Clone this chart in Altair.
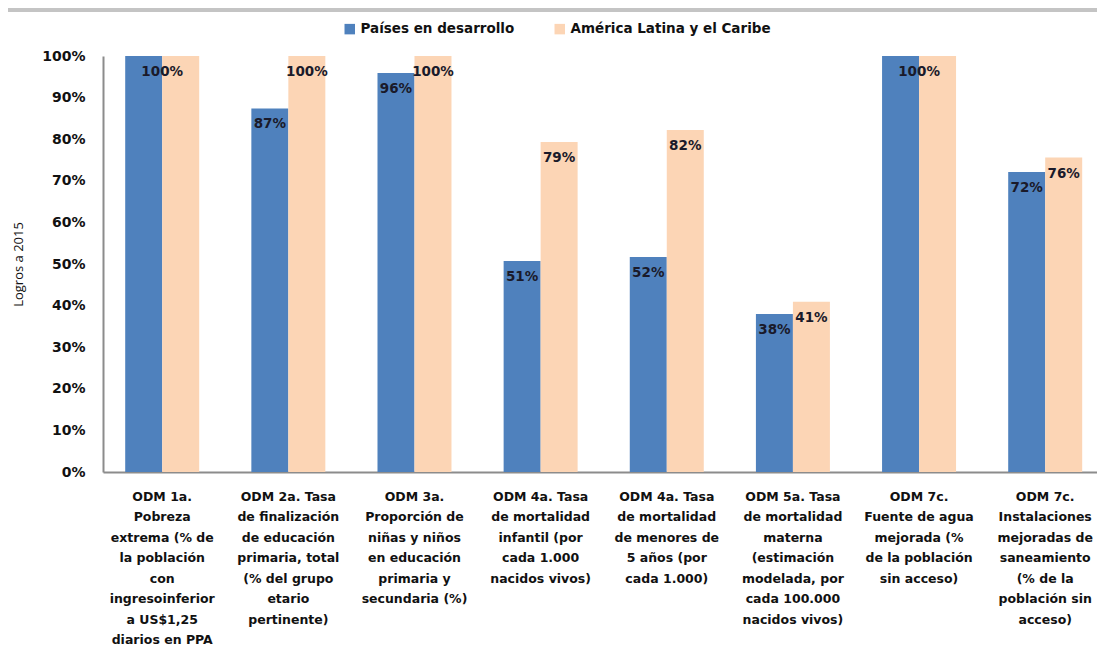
import altair as alt
import pandas as pd

categories = [
    "ODM 1a.\nPobreza\nextrema (% de\nla población\ncon\ningresoinferior\na US$1,25\ndiarios en PPA\nde 2005)",
    "ODM 2a. Tasa\nde finalización\nde educación\nprimaria, total\n(% del grupo\netario\npertinente)",
    "ODM 3a.\nProporción de\nniñas y niños\nen educación\nprimaria y\nsecundaria (%)",
    "ODM 4a. Tasa\nde mortalidad\ninfantil (por\ncada 1.000\nnacidos vivos)",
    "ODM 4a. Tasa\nde mortalidad\nde menores de\n5 años (por\ncada 1.000)",
    "ODM 5a. Tasa\nde mortalidad\nmaterna\n(estimación\nmodelada, por\ncada 100.000\nnacidos vivos)",
    "ODM 7c.\nFuente de agua\nmejorada (%\nde la población\nsin acceso)",
    "ODM 7c.\nInstalaciones\nmejoradas de\nsaneamiento\n(% de la\npoblación sin\nacceso)",
]
series = ["Países en desarrollo", "América Latina y el Caribe"]
desarrollo = [1.00, 0.874, 0.959, 0.507, 0.517, 0.38, 1.00, 0.721]
alc = [1.00, 1.00, 1.00, 0.793, 0.822, 0.409, 1.00, 0.756]
colors = ["#4F81BD", "#FCD5B5"]
y_ticks = [0, 0.1, 0.2, 0.3, 0.4, 0.5, 0.6, 0.7, 0.8, 0.9, 1.0]

rows = []
for i, c in enumerate(categories):
    rows.append({"cat": c, "serie": series[0], "valor": desarrollo[i]})
    rows.append({"cat": c, "serie": series[1], "valor": alc[i]})
df = pd.DataFrame(rows)

W = 994
H = 416
FONT = "DejaVu Sans"

x_enc = alt.X(
    "cat:N",
    sort=categories,
    title=None,
    scale=alt.Scale(paddingInner=0.4134, paddingOuter=0.1467, align=0.6),
    axis=alt.Axis(
        labelExpr="split(datum.label, '\\n')",
        labelAngle=0,
        labelBaseline="top",
        labelAlign="center",
        labelPadding=18,
        labelLineHeight=20.5,
        labelLimit=300,
        labelFont=FONT,
        labelFontSize=12.5,
        labelFontWeight="bold",
        labelColor="#111111",
        ticks=False,
        domainColor="#8c8c8c",
        domainWidth=2,
        grid=False,
    ),
)
xoff = alt.XOffset("serie:N", sort=series, scale=alt.Scale(paddingInner=0, paddingOuter=0))
y_enc = alt.Y(
    "valor:Q",
    scale=alt.Scale(domain=[0, 1]),
    title="Logros a 2015",
    axis=alt.Axis(
        values=y_ticks,
        format=".0%",
        labelFont=FONT,
        labelFontSize=14,
        labelFontWeight="bold",
        labelColor="#111111",
        labelPadding=18,
        ticks=False,
        grid=False,
        domainColor="#8c8c8c",
        domainWidth=2,
        titleFont="Open Sans",
        titleFontSize=13,
        titleFontWeight="normal",
        titleColor="#111111",
        titlePadding=16,
    ),
)

bars = alt.Chart(df).mark_bar().encode(
    x=x_enc,
    xOffset=xoff,
    y=y_enc,
    color=alt.Color(
        "serie:N",
        sort=series,
        scale=alt.Scale(domain=series, range=colors),
        legend=alt.Legend(
            title=None,
            orient="none",
            direction="horizontal",
            legendX=240,
            legendY=-34,
            symbolType="square",
            symbolSize=110,
            symbolStrokeWidth=0,
            labelFont=FONT,
            labelFontSize=13.5,
            labelFontWeight="bold",
            labelColor="#111111",
            labelLimit=400,
            labelOffset=4,
            columnPadding=38,
            padding=0,
        ),
    ),
)

text_style = dict(baseline="middle", dy=16, font=FONT, fontSize=13.5, fontWeight="bold", color="#1a1a2a")

# per-bar labels (categories where the two values differ)
text_bars = (
    alt.Chart(df)
    .transform_joinaggregate(vmin="min(valor)", vmax="max(valor)", groupby=["cat"])
    .transform_filter("datum.vmin != datum.vmax")
    .mark_text(**text_style)
    .encode(
        x=alt.X("cat:N", sort=categories),
        xOffset=xoff,
        y="valor:Q",
        text=alt.Text("valor:Q", format=".0%"),
    )
)

# single shared label where both values are equal
text_tied = (
    alt.Chart(df)
    .transform_joinaggregate(vmin="min(valor)", vmax="max(valor)", groupby=["cat"])
    .transform_filter(f"datum.vmin == datum.vmax && datum.serie == '{series[1]}'")
    .mark_text(**text_style)
    .encode(
        x=alt.X("cat:N", sort=categories),
        y="valor:Q",
        text=alt.Text("valor:Q", format=".0%"),
    )
)

top_line = alt.Chart(df).mark_rule(color="#c4c4c4", strokeWidth=3).encode(
    x=alt.value(-95), x2=alt.value(W), y=alt.value(-46)
)

chart = (
    alt.layer(bars, text_bars, text_tied, top_line)
    .properties(
        width=W,
        height=H,
        autosize=alt.AutoSizeParams(type="none"),
        padding={"left": 95, "top": 48, "right": 0, "bottom": 175},
    )
    .configure_view(stroke=None)
)

chart.save("out.html", embed_options={"renderer": "svg", "actions": False})
